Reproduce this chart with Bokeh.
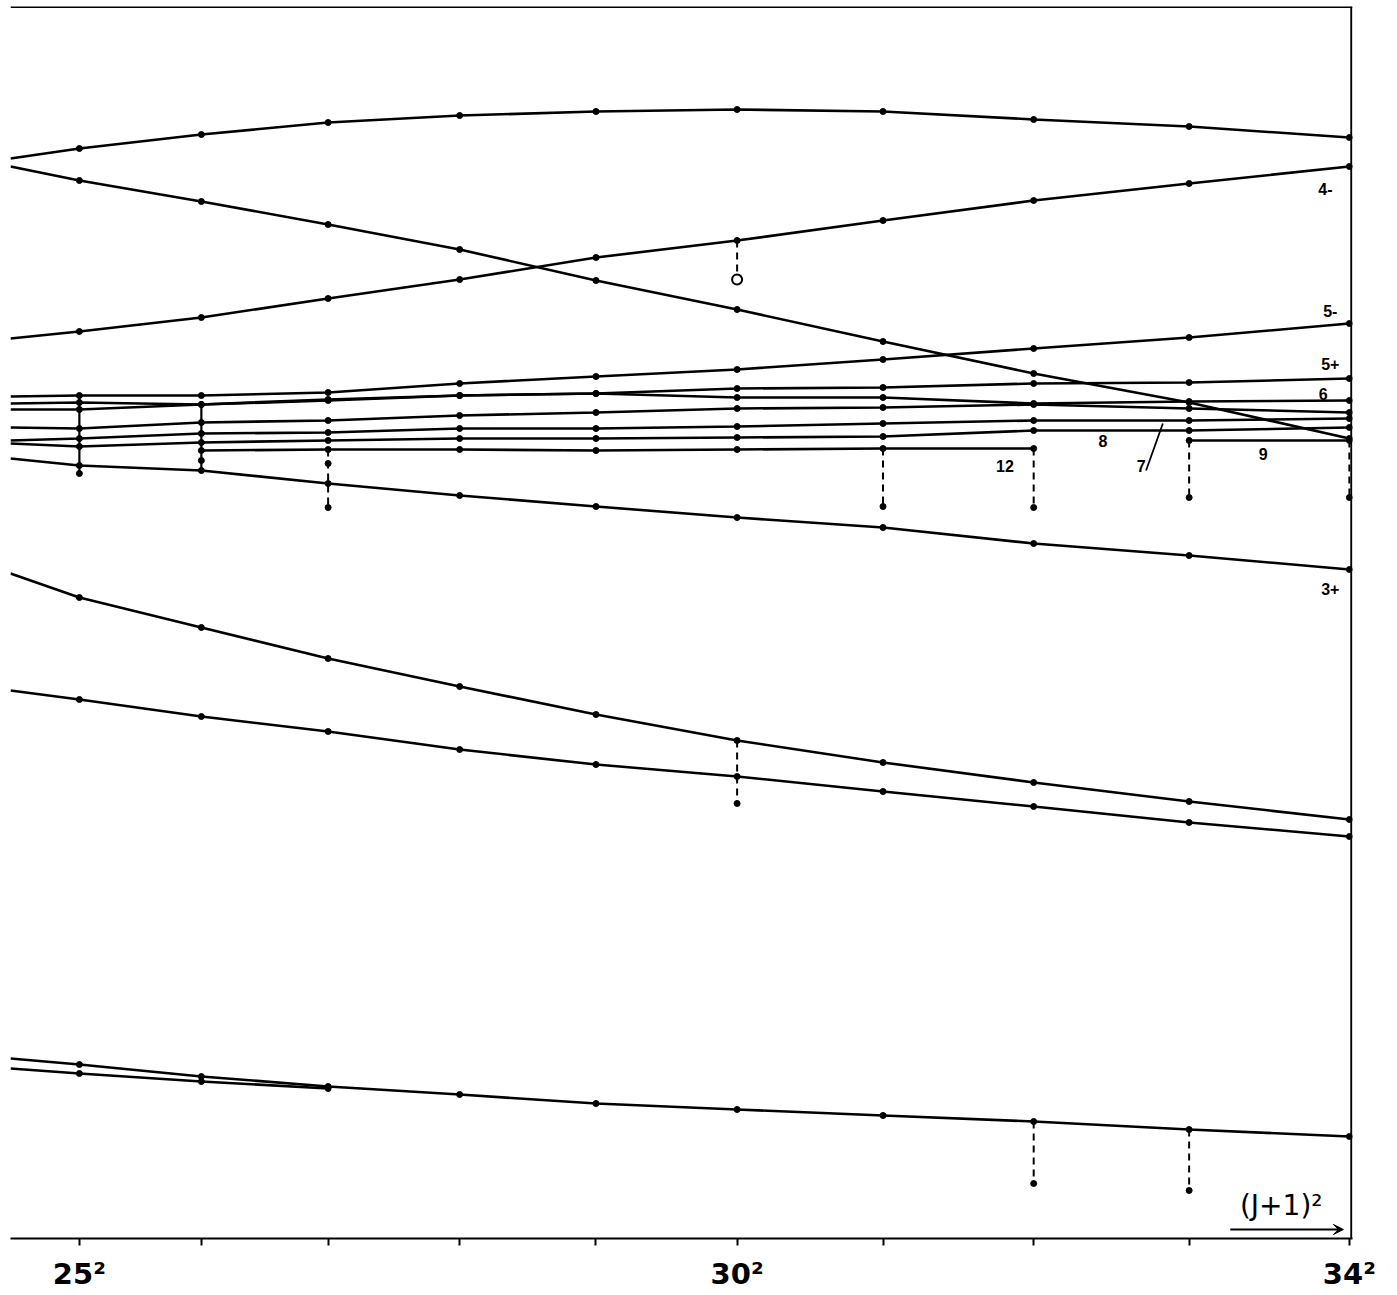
from bokeh.plotting import figure
from bokeh.models import FixedTicker, Span, Arrow, VeeHead
from bokeh.core.properties import value
from bokeh.embed import file_html
from bokeh.resources import INLINE

# ---- data (term values in arbitrary units) ----
JP1 = [25, 26, 27, 28, 29, 30, 31, 32, 33, 34]          # J+1
X = [n ** 2 for n in JP1]                                # (J+1)^2
X_LEFT, X_RIGHT = 596.2, 1157.3                          # plotted range of (J+1)^2
Y_LOW, Y_HIGH = 0, 1232

# each level: value at the left edge of the plot, then values at J+1 = 25..34
lvl_A = (1080, [1090, 1104, 1116, 1123, 1127, 1129, 1127, 1119, 1112, 1101])
lvl_B = (1072, [1058, 1037, 1014, 989, 958, 929, 897, 865, 836, 800])
lvl_4m = (900, [907, 921, 940, 959, 981, 998, 1018, 1038, 1055, 1072])
lvl_5m = (842, [843, 843, 846, 855, 862, 869, 879, 890, 901, 915])
lvl_5p = (829, [829, 834, 838, 843, 845, 850, 851, 855, 856, 860])
lvl_6 = (835, [836, 834, 839, 843, 845, 841, 841, 835, 837, 838])
lvl_X = (811, [810, 816, 818, 823, 826, 830, 831, 834, 830, 826])
lvl_7 = (798, [800, 805, 806, 810, 810, 812, 815, 818, 818, 820])
lvl_8 = (795, [792, 796, 798, 800, 800, 801, 802, 808, 808, 811])
lvl_3p = (780, [773, 768, 755, 743, 732, 721, 711, 695, 683, 669])
lvl_E = (665, [641, 611, 580, 552, 524, 498, 476, 456, 437, 419])
lvl_F = (548, [539, 522, 507, 489, 474, 462, 447, 432, 416, 402])
lvl_G = (180, [174, 162, 152, 144, 135, 129, 123, 117, 109, 102])

# partial levels: (J+1 values, level values)
lvl_12 = ([26, 27, 28, 29, 30, 31, 32], [788, 789, 789, 788, 789, 790, 790])
lvl_9 = ([33, 34], [798, 798])
lvl_H_edge = 170
lvl_H = ([25, 26, 27], [165, 157, 150])

# extra observed points (J+1, value)
extra_n = [25, 26, 27, 27, 31, 32, 33, 34, 30, 32, 33]
extra_v = [765, 778, 775, 731, 732, 731, 741, 741, 435, 55, 48]
open_n = [30]
open_v = [959]

# connections between levels at a given J+1: (J+1, from value, to value)
solid_links = [(25, 843, 765), (26, 834, 768)]
dashed_links = [(27, 789, 731), (31, 790, 732), (32, 790, 731), (33, 798, 741),
                (34, 798, 741), (30, 998, 959), (30, 498, 435), (32, 117, 55),
                (33, 109, 48)]

# level labels: (text, (J+1)^2 position, value)
labels = [("4-", 1146, 1050), ("5-", 1148, 928), ("5+", 1148, 875),
          ("6", 1145, 845), ("8", 1053, 798), ("7", 1069, 773),
          ("9", 1120, 785), ("12", 1012, 773), ("3+", 1148, 650)]
leader_7 = ((1071, 768), (1078, 815))

tick_labels = {625: "25²", 900: "30²", 1156: "34²"}

# ---- figure ----
p = figure(frame_width=1342, frame_height=1232, x_range=(X_LEFT, X_RIGHT),
           y_range=(Y_LOW, Y_HIGH), output_backend="svg", toolbar_location=None,
           y_axis_location=None, min_border_left=10, min_border_right=40,
           min_border_top=6, min_border_bottom=40, outline_line_color=None,
           background_fill_color="white", border_fill_color="white")
p.grid.visible = False

ax = p.xaxis[0]
ax.ticker = FixedTicker(ticks=X)
ax.major_label_overrides = {x: tick_labels.get(x, "") for x in X}
ax.axis_line_width = 2
ax.axis_line_color = "black"
ax.major_tick_line_width = 2
ax.major_tick_in = 0
ax.major_tick_out = 7
ax.minor_tick_line_color = None
ax.major_label_text_font = "DejaVu Sans"
ax.major_label_text_font_style = "bold"
ax.major_label_text_font_size = "29px"
ax.major_label_text_color = "black"
ax.major_label_standoff = 11

# top and right border
p.add_layout(Span(location=Y_HIGH - 0.5, dimension="width", line_color="black", line_width=2))
p.add_layout(Span(location=X_RIGHT - 0.5, dimension="height", line_color="black", line_width=2))

LW = 2.6
MS = 6

def full_level(lvl):
    edge, vals = lvl
    p.line([X_LEFT] + X, [edge] + vals, line_color="black", line_width=LW)
    p.scatter(X, vals, size=MS, color="black")

for lvl in [lvl_A, lvl_B, lvl_4m, lvl_5m, lvl_5p, lvl_6, lvl_X, lvl_7, lvl_8,
            lvl_3p, lvl_E, lvl_F, lvl_G]:
    full_level(lvl)

for ns, vals in [lvl_12, lvl_9]:
    xs = [n ** 2 for n in ns]
    p.line(xs, vals, line_color="black", line_width=LW)
    p.scatter(xs, vals, size=MS, color="black")

hx = [n ** 2 for n in lvl_H[0]]
p.line([X_LEFT] + hx, [lvl_H_edge] + lvl_H[1], line_color="black", line_width=LW)
p.scatter(hx, lvl_H[1], size=MS, color="black")

p.segment([n ** 2 for n, a, b in solid_links], [a for n, a, b in solid_links],
          [n ** 2 for n, a, b in solid_links], [b for n, a, b in solid_links],
          line_color="black", line_width=2.2)
p.segment([n ** 2 for n, a, b in dashed_links], [a for n, a, b in dashed_links],
          [n ** 2 for n, a, b in dashed_links], [b for n, a, b in dashed_links],
          line_color="black", line_width=2, line_dash="7 5")

p.scatter([n ** 2 for n in extra_n], extra_v, size=MS, color="black")
p.scatter([n ** 2 for n in open_n], open_v, size=10, fill_color="white",
          line_color="black", line_width=2)

p.text([x for t, x, v in labels], [v for t, x, v in labels],
       text=[t for t, x, v in labels], text_font=value("Liberation Sans"),
       text_font_style="bold", text_font_size="16px", text_align="center",
       text_baseline="middle", text_color="black")
(a0, b0), (a1, b1) = leader_7
p.segment([a0], [b0], [a1], [b1], line_color="black", line_width=1.8)

# axis title with arrow
p.text([1127.5], [33], text=["(J+1)²"], text_font=value("DejaVu Sans"),
       text_font_size="28px", text_align="center", text_baseline="middle",
       text_color="black")
p.add_layout(Arrow(x_start=1106.2, y_start=9, x_end=1153.5, y_end=9,
                   line_color="black", line_width=1.8,
                   end=VeeHead(size=10, fill_color="black", line_color="black")))

open("out.html", "w").write(file_html(p, INLINE))
